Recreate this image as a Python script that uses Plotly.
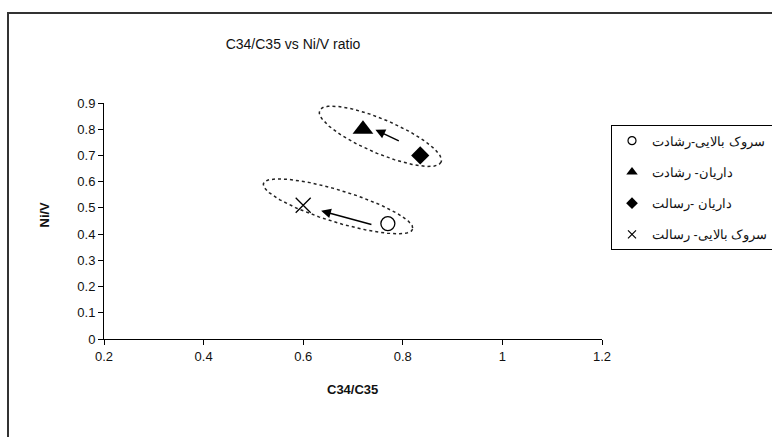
import numpy as np
import plotly.graph_objects as go

# ---------------- data ----------------
series_names = ["سروک بالایی-رشادت", "داریان- رشادت", "داریان -رسالت", "سروک بالایی- رسالت"]
c34_c35 = [0.77, 0.72, 0.835, 0.60]
ni_v = [0.44, 0.80, 0.70, 0.51]
symbols = ["circle-open", "triangle-up", "diamond", "x-thin-open"]

x_ticks = [0.2, 0.4, 0.6, 0.8, 1.0, 1.2]
x_tick_text = ["0.2", "0.4", "0.6", "0.8", "1", "1.2"]
y_ticks = [0, 0.1, 0.2, 0.3, 0.4, 0.5, 0.6, 0.7, 0.8, 0.9]
y_tick_text = ["0", "0.1", "0.2", "0.3", "0.4", "0.5", "0.6", "0.7", "0.8", "0.9"]

# arrows: (tail x, tail y, head x, head y) in data units
arrows = [(0.795, 0.753, 0.745, 0.798), (0.740, 0.435, 0.636, 0.489)]
# dotted ellipses: centre (data), semi-axes (px), tilt (deg)
ellipses = [(0.755, 0.773, 66, 17, 23), (0.670, 0.506, 78, 16, 17)]

# ---------------- layout geometry ----------------
W, H = 772, 437
ML, MR, MT, MB = 104, 170, 103, 98
PW, PH = W - ML - MR, H - MT - MB
X_RANGE = [0.2, 1.2]
Y_RANGE = [0, 0.9]
sx = PW / (X_RANGE[1] - X_RANGE[0])
sy = PH / (Y_RANGE[1] - Y_RANGE[0])

FONT = "Liberation Sans, Arial, sans-serif"

fig = go.Figure()

# ellipses
t = np.linspace(0, 2 * np.pi, 200)
for cx, cy, a, b, ang in ellipses:
    th = np.deg2rad(ang)
    dx = a * np.cos(t) * np.cos(th) - b * np.sin(t) * np.sin(th)
    dy = a * np.cos(t) * np.sin(th) + b * np.sin(t) * np.cos(th)
    fig.add_trace(go.Scatter(
        x=cx + dx / sx, y=cy - dy / sy, mode="lines",
        line=dict(color="#222222", width=1.5, dash="dot"),
        hoverinfo="skip", showlegend=False))

marker_sizes = [14, 18, 14, 15]
legend_sizes = [8, 10, 9, 8]
for i, name in enumerate(series_names):
    lw = 1.3 if symbols[i] in ("circle-open", "x-thin-open") else 0
    fig.add_trace(go.Scatter(
        x=[c34_c35[i]], y=[ni_v[i]], mode="markers", name=name,
        marker=dict(symbol=symbols[i], size=marker_sizes[i], color="black",
                    line=dict(color="black", width=lw)),
        showlegend=False))
for i, name in enumerate(series_names):
    lw = 1.2 if symbols[i] in ("circle-open", "x-thin-open") else 0
    fig.add_trace(go.Scatter(
        x=[None], y=[None], mode="markers", name=name, legendgroup=str(i),
        marker=dict(symbol=symbols[i], size=legend_sizes[i], color="black",
                    line=dict(color="black", width=lw)),
        showlegend=True))

for x0, y0, x1, y1 in arrows:
    fig.add_annotation(x=x1, y=y1, ax=x0, ay=y0, xref="x", yref="y",
                       axref="x", ayref="y", showarrow=True, arrowhead=2,
                       arrowsize=1.3, arrowwidth=1.5, arrowcolor="black", text="")

# outer chart frame
fig.add_shape(type="rect", xref="paper", yref="paper",
              x0=(8 - ML) / PW, x1=(W + 10 - ML) / PW,
              y0=-(H + 10 - MT - PH) / PH, y1=(MT + PH - 13) / PH,
              line=dict(color="#333333", width=2), layer="below")

# axis titles
fig.add_annotation(text="<b>C34/C35</b>", xref="paper", yref="paper",
                   x=(352 - ML) / PW, y=-(399 - MT - PH) / PH, showarrow=False,
                   font=dict(family=FONT, size=13, color="#111111"))
fig.add_annotation(text="<b>Ni/V</b>", xref="paper", yref="paper", textangle=-90,
                   x=(34 - ML) / PW, y=(MT + PH - 215) / PH, showarrow=False,
                   font=dict(family=FONT, size=13, color="#111111"))

fig.update_layout(
    width=W, height=H,
    margin=dict(l=ML, r=MR, t=MT, b=MB, autoexpand=False),
    paper_bgcolor="white", plot_bgcolor="white",
    font=dict(family=FONT, size=13, color="#111111"),
    title=dict(text="C34/C35 vs Ni/V ratio", x=(293 - ML) / PW, xref="paper",
               xanchor="center", y=1 - 44 / H, yref="container", yanchor="middle",
               font=dict(family=FONT, size=14, color="#111111")),
    xaxis=dict(range=X_RANGE, tickvals=x_ticks, ticktext=x_tick_text,
               showline=True, linecolor="black", linewidth=1, ticks="outside",
               ticklen=5, tickcolor="black", showgrid=False, zeroline=False,
               tickfont=dict(size=13)),
    yaxis=dict(range=Y_RANGE, tickvals=y_ticks, ticktext=y_tick_text,
               showline=True, linecolor="black", linewidth=1, ticks="outside",
               ticklen=5, tickcolor="black", showgrid=False, zeroline=False,
               tickfont=dict(size=13)),
    legend=dict(x=(611 - ML) / PW, y=(MT + PH - 125) / PH, xanchor="left",
                yanchor="top", bordercolor="black", borderwidth=1,
                bgcolor="white", tracegroupgap=12, traceorder="grouped",
                font=dict(family=FONT, size=12.5, color="#111111")),
    showlegend=True,
)

fig.write_html("out.html")
